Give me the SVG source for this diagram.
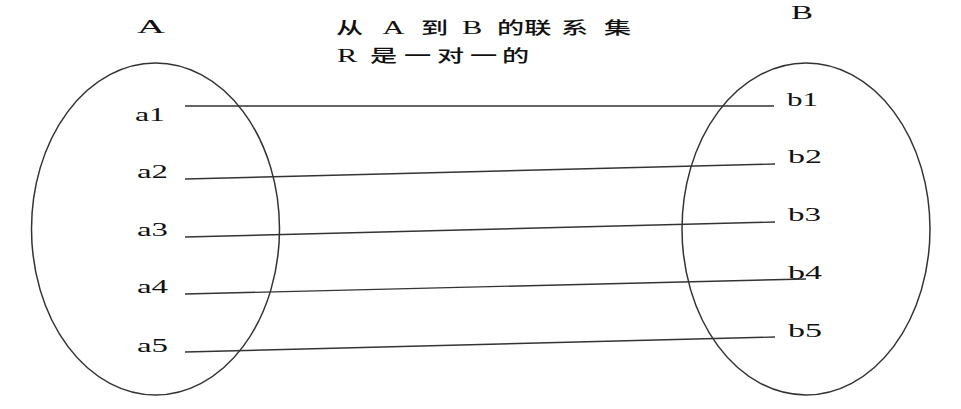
<svg xmlns="http://www.w3.org/2000/svg" width="961" height="409" viewBox="0 0 961 409">
<style>
  .set { fill: none; stroke: #333; stroke-width: 1.5; }
  .lbl { font-family: "Liberation Serif", "Times New Roman", serif; font-size: 19px; fill: #111; }
  .cap { font-family: "Liberation Serif", "Times New Roman", serif; font-size: 18px; fill: #111; }
  .title { font-family: "Noto Sans CJK SC", "Noto Sans", sans-serif; font-size: 17px; font-weight: 500; fill: #111; }
  .lat { font-family: "Liberation Serif", "Times New Roman", serif; font-size: 19px; font-weight: normal; }
  .conn line { stroke: #333; stroke-width: 1.4; }
</style>
<rect width="961" height="409" fill="#fff"/>

<g id="title">
  <text class="title" transform="scale(1.6,1)" y="34" x="210 227.2 239 253.8 263.1 280.3 288.75 301.6 310.6 327.7 350.6 377.5">从 <tspan class="lat">A</tspan> 到 <tspan class="lat">B</tspan> 的联系集</text>
  <text class="title" transform="scale(1.6,1)" y="62" x="210.6 223.5 231.25 252.5 273.1 293.75 313.75"><tspan class="lat">R</tspan> 是一对一的</text>
</g>

<g id="setA">
  <ellipse class="set" cx="155.5" cy="229" rx="124" ry="166"/>
  <text class="cap" x="137" y="33" textLength="28" lengthAdjust="spacingAndGlyphs">A</text>
</g>
<g id="setB">
  <ellipse class="set" cx="806" cy="229" rx="124" ry="166"/>
  <text class="cap" x="791" y="19" textLength="22" lengthAdjust="spacingAndGlyphs">B</text>
</g>

<g id="a1"><text class="lbl" x="135" y="121" textLength="30" lengthAdjust="spacingAndGlyphs">a1</text></g>
<g id="a2"><text class="lbl" x="137" y="178" textLength="31" lengthAdjust="spacingAndGlyphs">a2</text></g>
<g id="a3"><text class="lbl" x="137" y="236" textLength="31" lengthAdjust="spacingAndGlyphs">a3</text></g>
<g id="a4"><text class="lbl" x="137" y="293" textLength="31" lengthAdjust="spacingAndGlyphs">a4</text></g>
<g id="a5"><text class="lbl" x="137" y="352" textLength="31" lengthAdjust="spacingAndGlyphs">a5</text></g>

<g id="b1"><text class="lbl" x="787" y="106" textLength="31" lengthAdjust="spacingAndGlyphs">b1</text></g>
<g id="b2"><text class="lbl" x="788" y="163" textLength="34" lengthAdjust="spacingAndGlyphs">b2</text></g>
<g id="b3"><text class="lbl" x="788" y="221" textLength="33" lengthAdjust="spacingAndGlyphs">b3</text></g>
<g id="b4"><text class="lbl" x="788" y="279" textLength="34" lengthAdjust="spacingAndGlyphs">b4</text></g>
<g id="b5"><text class="lbl" x="788" y="337" textLength="34" lengthAdjust="spacingAndGlyphs">b5</text></g>

<g id="connectors" class="conn">
  <line x1="185" y1="106" x2="774" y2="106"/>
  <line x1="185" y1="179" x2="775" y2="164"/>
  <line x1="185" y1="237" x2="775" y2="222"/>
  <line x1="185" y1="294" x2="806" y2="279"/>
  <line x1="185" y1="352" x2="775" y2="337"/>
</g>
</svg>
